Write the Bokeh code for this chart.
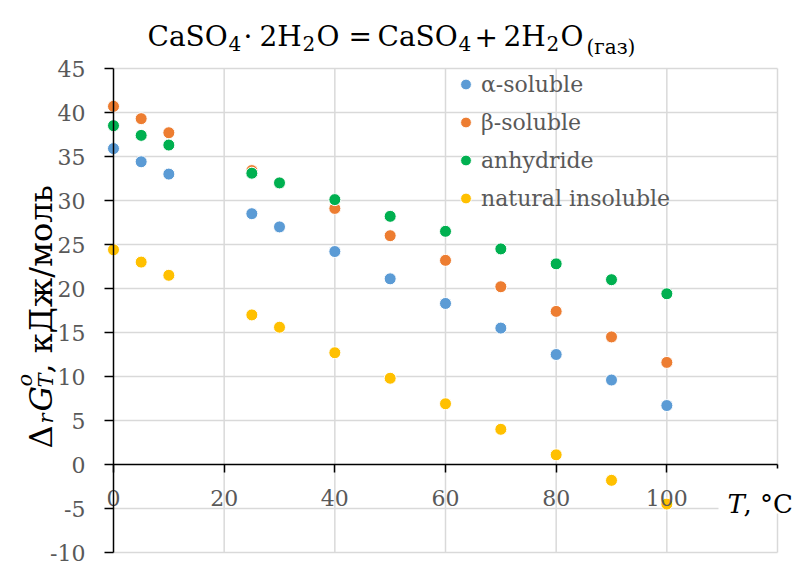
import math
from bokeh.plotting import figure
from bokeh.models import (Label, Legend, LegendItem, ColumnDataSource,
                          SingleIntervalTicker, BoxAnnotation, Range1d,
                          PrintfTickFormatter)
from bokeh.embed import file_html
from bokeh.resources import INLINE

# ---- data ----
T = [0, 5, 10, 25, 30, 40, 50, 60, 70, 80, 90, 100]
alpha_soluble = [35.9, 34.4, 33.0, 28.5, 27.0, 24.2, 21.1, 18.3, 15.5, 12.5, 9.6, 6.7]
beta_soluble = [40.7, 39.3, 37.7, 33.4, 32.0, 29.1, 26.0, 23.2, 20.2, 17.4, 14.5, 11.6]
anhydride = [38.5, 37.4, 36.3, 33.1, 32.0, 30.1, 28.2, 26.5, 24.5, 22.8, 21.0, 19.4]
natural_insoluble = [24.4, 23.0, 21.5, 17.0, 15.6, 12.7, 9.8, 6.9, 4.0, 1.1, -1.8, -4.5]

series_names = ["α-soluble", "β-soluble", "anhydride", "natural insoluble"]
series_values = [alpha_soluble, beta_soluble, anhydride, natural_insoluble]
series_colors = ["#5B9BD5", "#ED7D31", "#00B050", "#FFC000"]

x_ticks = [0, 20, 40, 60, 80, 100, 120]
y_ticks = [-10, -5, 0, 5, 10, 15, 20, 25, 30, 35, 40, 45]

FONT = "DejaVu Serif"
GRAY = "#595959"
W, H = 797, 562

# plot area in page pixels: x 0..120 -> 113..777, y 45..-10 -> 68..552
PL, PR, PT, PB = 113, 777, 68, 552
xmin, xmax = x_ticks[0], x_ticks[-1]
ymin, ymax = y_ticks[0], y_ticks[-1]
kx = (PR - PL) / (xmax - xmin)
ky = (PB - PT) / (ymax - ymin)
x_range = Range1d(xmin - PL / kx, xmax + (W - PR) / kx)
y_range = Range1d(ymin - (H - PB) / ky, ymax + PT / ky)

p = figure(width=W, height=H, x_range=x_range, y_range=y_range,
           output_backend="svg", toolbar_location=None,
           min_border=0, min_border_left=0, min_border_right=0,
           min_border_top=0, min_border_bottom=0)
p.outline_line_color = None
p.background_fill_color = "white"
p.border_fill_color = "white"
p.xgrid.visible = False
p.ygrid.visible = False

p.xaxis.ticker = SingleIntervalTicker(interval=20)
p.yaxis.ticker = SingleIntervalTicker(interval=5)
p.xaxis.fixed_location = 0
p.yaxis.fixed_location = 0
p.xaxis.bounds = (xmin, xmax)
p.yaxis.bounds = (ymin, ymax)
p.xaxis.formatter = PrintfTickFormatter(format="%d")
p.yaxis.formatter = PrintfTickFormatter(format="%d")

for ax in (p.xaxis[0], p.yaxis[0]):
    ax.axis_line_color = "black"
    ax.axis_line_width = 1.5
    ax.major_tick_line_color = "black"
    ax.major_tick_line_width = 1.5
    ax.minor_tick_line_color = None
    ax.major_tick_in = 0
    ax.major_label_text_font = FONT
    ax.major_label_text_font_size = "22px"
    ax.major_label_text_color = GRAY
p.yaxis.major_tick_out = 9
p.yaxis.major_label_standoff = 19
p.xaxis.major_tick_out = 8
p.xaxis.major_label_standoff = 17

# grid lines from the tick arrays
gx = x_ticks[1:]
p.segment(x0=gx, x1=gx, y0=[ymin] * len(gx), y1=[ymax] * len(gx),
          line_color="#d9d9d9", line_width=1.5)
gy = [v for v in y_ticks if v != 0]
p.segment(x0=[xmin] * len(gy), x1=[xmax] * len(gy), y0=gy, y1=gy,
          line_color="#d9d9d9", line_width=1.5)

items = []
for name, vals, col in zip(series_names, series_values, series_colors):
    src = ColumnDataSource(dict(x=T, y=vals))
    r = p.scatter("x", "y", source=src, size=12, fill_color=col,
                  line_color="white", line_width=1)
    items.append(LegendItem(label=name, renderers=[r]))

legend = Legend(items=items, location=(452, H - 213))
legend.background_fill_alpha = 0
legend.border_line_color = None
legend.padding = 0
legend.margin = 0
legend.spacing = 8
legend.label_height = 30
legend.glyph_height = 30
legend.glyph_width = 27
legend.label_standoff = 2
legend.label_text_font = FONT
legend.label_text_font_size = "22px"
legend.label_text_color = GRAY
p.add_layout(legend)


def lab(text, px, py, size, italic=False, angle=0.0, color="black"):
    return Label(x=px, y=H - py, x_units="screen", y_units="screen",
                 text=text, text_font=FONT, text_font_size=f"{size}px",
                 text_font_style="italic" if italic else "normal",
                 angle=angle, text_align="left", text_baseline="alphabetic",
                 text_color=color)

# white box behind the x-axis title
p.add_layout(BoxAnnotation(left=718, right=W, top=H - 468, bottom=H - 513,
                           left_units="screen", right_units="screen",
                           top_units="screen", bottom_units="screen",
                           fill_color="white", fill_alpha=1, line_color=None))

# title: CaSO4 · 2H2O = CaSO4 + 2H2O(газ)
MAIN, SUB = 28, 20
BL, SBL = 36, 43
title_pieces = [
    ("CaSO", 147, BL, MAIN), ("4", 228, SBL, SUB), ("·", 243, BL, MAIN),
    ("2H", 259, BL, MAIN), ("2", 302, SBL, SUB), ("O", 316, BL, MAIN),
    ("=", 348, BL, MAIN),
    ("CaSO", 377, BL, MAIN), ("4", 458, SBL, SUB), ("+", 474, BL, MAIN),
    ("2H", 503, BL, MAIN), ("2", 546, SBL, SUB), ("O", 560, BL, MAIN),
    ("(газ)", 586, 46, SUB),
]
for txt, x, y, s in title_pieces:
    p.add_layout(lab(txt, x, y, s))

# x axis title
p.add_layout(lab("T", 727, 503, 26, italic=True))
p.add_layout(lab(", °C", 743, 503, 26))

# y axis title (rotated)
A = math.pi / 2
p.add_layout(lab("Δ", 40, 448, 32, angle=A))
p.add_layout(lab("r", 45, 423, 21, italic=True, angle=A))
p.add_layout(lab("G", 40, 411, 32, italic=True, angle=A))
p.add_layout(lab("T", 45, 387, 21, italic=True, angle=A))
p.add_layout(lab("o", 24, 386, 21, italic=True, angle=A))
p.add_layout(lab(", кДж/моль", 40, 373, 32, angle=A))

open("out.html", "w").write(file_html(p, INLINE))
